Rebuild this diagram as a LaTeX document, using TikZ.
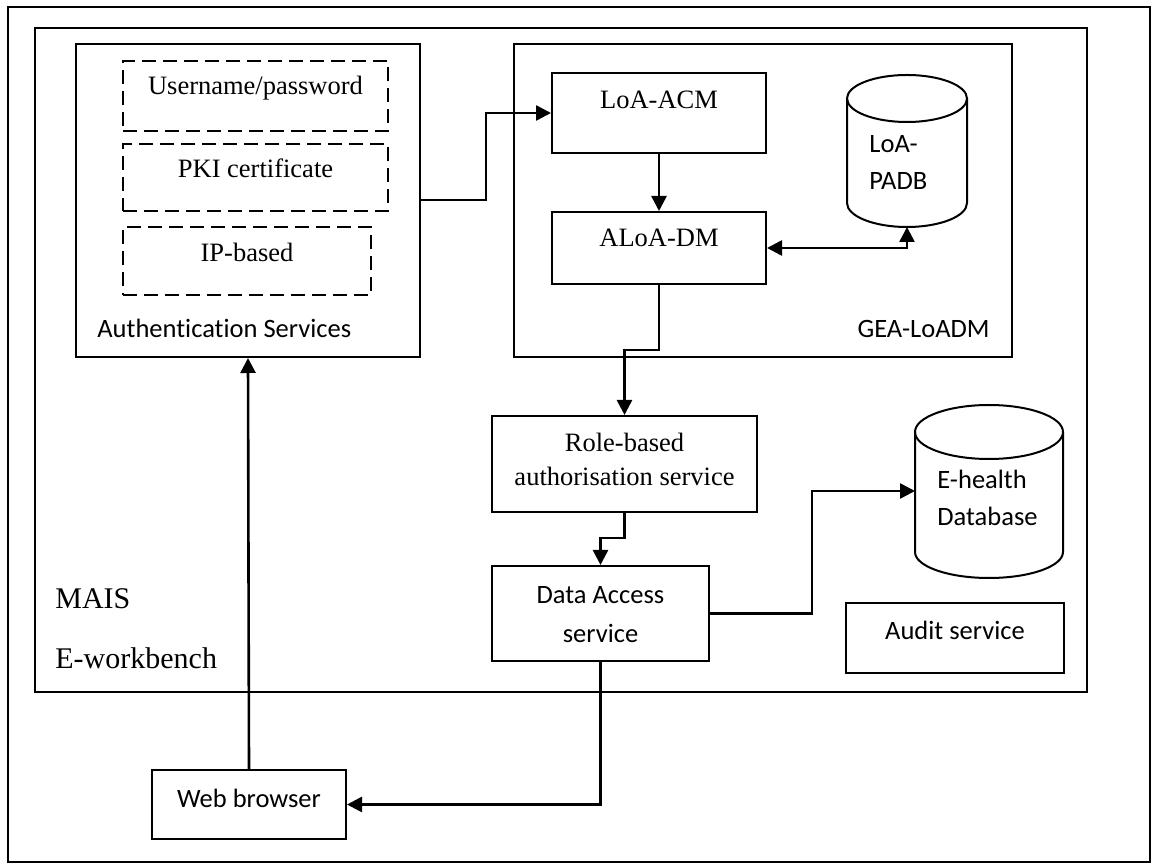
\documentclass[tikz,border=0pt]{standalone}
\usepackage{fontspec}
\setmainfont{Liberation Serif}
\newfontfamily\calibri[Ligatures=NoCommon]{Carlito}
\usetikzlibrary{arrows.meta,fit}
\tikzset{
  box/.style={draw, line width=1pt, inner sep=0pt},
  dbox/.style={box, dash pattern=on 7pt off 3.5pt},
  tip/.style={Triangle[length=7.5pt,width=7.5pt]},
  conn/.style={line width=1.3pt, -{Triangle[length=7.5pt,width=7.5pt]}},
  tnr/.style={font=\fontsize{13.25}{15}\selectfont, inner sep=0pt, anchor=base},
  cal/.style={font=\calibri\fontsize{13.25}{15}\selectfont, inner sep=0pt, anchor=base},
  big/.style={font=\fontsize{15}{17}\selectfont, inner sep=0pt, anchor=base west},
}
\begin{document}
\begin{tikzpicture}[x=0.5pt,y=-0.5pt]
\useasboundingbox (0,0) rectangle (1152,865);
% outer frame and MAIS
\draw[line width=0.9pt] (8,7) rectangle (1150,862);
\node[box, fit={(35,28) (1087,692)}] (mais) {};
\node[big] (maist) at (55,609) {MAIS};
\node[big] (workt) at (55,669) {E-workbench};

% authentication services
\node[box, fit={(76,44) (420,357)}] (auth) {};
\node[dbox, fit={(123,61) (388,131)}] (uname) {};
\node[dbox, fit={(123,144) (388,211)}] (pki) {};
\node[dbox, fit={(123,227) (371,295)}] (ipb) {};
\node[tnr] (unamet) at (255.5,95) {Username/password};
\node[tnr] (pkit) at (255.5,178) {PKI certificate};
\node[tnr] (ipbt) at (247,262) {IP-based};
\node[cal, anchor=base west] (autht) at (97,338) {Authentication Services};

% GEA-LoADM
\node[box, fit={(514,44) (1012,357)}] (gea) {};
\node[box, fit={(552,73) (766,153)}] (acm) {};
\node[box, fit={(552,212) (766,284)}] (dm) {};
\node[tnr] (acmt) at (659,109) {LoA-ACM};
\node[tnr] (dmt) at (659,247) {ALoA-DM};
\node[cal, anchor=base east] (geat) at (990,338) {GEA-LoADM};
\draw[line width=1pt] (907,98.5) ellipse [x radius=60, y radius=23.5];
\draw[line width=1pt] (847,98.5) -- (847,203) arc[start angle=180, end angle=0, x radius=60, y radius=24] -- (967,98.5);
\coordinate (padb) at (907,227);
\node[cal, anchor=base west] (padbt1) at (869,153) {LoA-};
\node[cal, anchor=base west] (padbt2) at (869,190) {PADB};

% services
\node[box, fit={(492,416) (757,512)}] (role) {};
\node[tnr] (rolet1) at (624.5,452) {Role-based};
\node[tnr] (rolet2) at (624.5,486) {authorisation service};
\node[box, fit={(492,566) (709,661)}] (access) {};
\node[cal] (accesst1) at (600.5,604) {Data Access};
\node[cal] (accesst2) at (600.5,643) {service};
\node[box, fit={(846,603) (1064,673)}] (audit) {};
\node[cal] (auditt) at (955,640) {Audit service};
\draw[line width=1pt] (989,432) ellipse [x radius=74, y radius=27];
\draw[line width=1pt] (915,432) -- (915,552) arc[start angle=180, end angle=0, x radius=74, y radius=26] -- (1063,432);
\coordinate (ehealth) at (915,491);
\node[cal, anchor=base west] (ehealtht1) at (937,489) {E-health};
\node[cal, anchor=base west] (ehealtht2) at (937,526) {Database};

% web browser
\node[box, fit={(152,770) (346,839)}] (web) {};
\node[cal] (webt) at (249,808) {Web browser};

% connectors
\coordinate (j1) at (486,200);
\coordinate (j2) at (624.5,350);
\coordinate (j3) at (600.5,538);
\coordinate (j4) at (812,491);
\draw[conn] (auth.east |- j1) -- (j1) |- (acm.west);
\draw[conn] (acm.south) -- (dm.north);
\draw[line width=1.3pt, {Triangle[length=7.5pt,width=7.5pt]}-{Triangle[length=7.5pt,width=7.5pt]}] (dm.east) -| (padb);
\draw[conn] (dm.south) |- (j2) -- (role.north);
\draw[conn] (role.south) |- (j3) -- (access.north);
\draw[conn] (access.east) -| (j4) -- (ehealth);
\draw[conn] (access.south) |- (web.east);
\draw[conn] (web.north) -- (auth.south);
\end{tikzpicture}
\end{document}
